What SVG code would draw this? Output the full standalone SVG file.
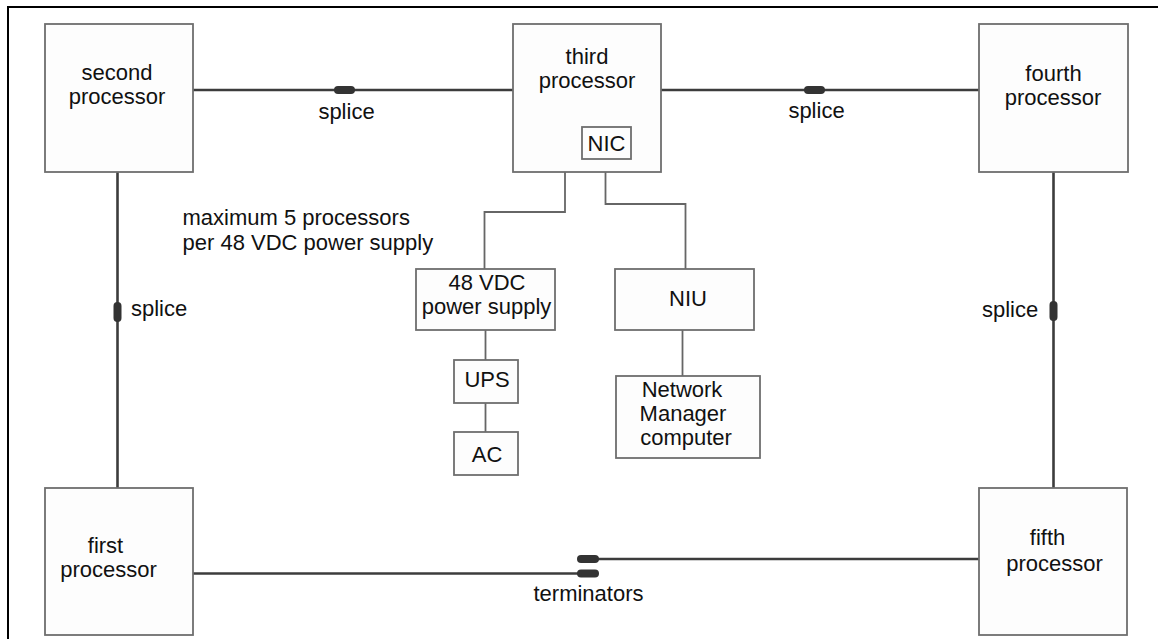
<svg xmlns="http://www.w3.org/2000/svg" width="1158" height="639" viewBox="0 0 1158 639">
<style>
  text { font-family: "Liberation Sans", Arial, sans-serif; font-size: 22px; fill: #111; }
  .m { text-anchor: middle; }
  .box { fill: #fdfdfd; stroke: #6e6e6e; stroke-width: 1.8; }
  .bus { fill: none; stroke: #3c3c3c; stroke-width: 2.6; }
  .wire { fill: none; stroke: #666; stroke-width: 1.8; }
  .splice { fill: #333; stroke: none; }
  .frame { stroke: #000; stroke-width: 2; }
</style>
<rect width="1158" height="639" fill="#fff"/>
<line class="frame" x1="8" y1="7" x2="1158" y2="7"/>
<line class="frame" x1="8" y1="6" x2="8" y2="639"/>

<g id="connectors">
  <line class="bus" x1="193" y1="90" x2="513" y2="90"/>
  <line class="bus" x1="661" y1="90" x2="979" y2="90"/>
  <line class="bus" x1="117.5" y1="172" x2="117.5" y2="488"/>
  <line class="bus" x1="1053.5" y1="172" x2="1053.5" y2="488"/>
  <line class="bus" x1="193" y1="573.5" x2="580" y2="573.5"/>
  <line class="bus" x1="596" y1="559" x2="979" y2="559"/>
  <polyline class="wire" points="565,172 565,212 484.5,212 484.5,269"/>
  <polyline class="wire" points="605.5,159 605.5,204 685.5,204 685.5,269"/>
  <line class="wire" x1="485.5" y1="330" x2="485.5" y2="360"/>
  <line class="wire" x1="485.5" y1="403" x2="485.5" y2="432"/>
  <line class="wire" x1="682.5" y1="330" x2="682.5" y2="376"/>
  <rect class="splice" x="334" y="86" width="21" height="8" rx="4"/>
  <rect class="splice" x="804" y="86" width="21" height="8" rx="4"/>
  <rect class="splice" x="113.5" y="302" width="8" height="20" rx="4"/>
  <rect class="splice" x="1049.5" y="301" width="8" height="20" rx="4"/>
  <rect class="splice" x="577" y="555" width="22" height="8" rx="4"/>
  <rect class="splice" x="577" y="569.5" width="22" height="8" rx="4"/>
  <text class="m" x="346.5" y="119">splice</text>
  <text class="m" x="816.5" y="118">splice</text>
  <text x="131" y="316">splice</text>
  <text x="982" y="316.5">splice</text>
  <text class="m" x="588.5" y="600.5">terminators</text>
</g>

<g id="note">
  <text x="182.5" y="225">maximum 5 processors</text>
  <text x="182.5" y="250">per 48 VDC power supply</text>
</g>

<g id="second-processor">
  <rect class="box" x="45" y="24" width="148" height="148"/>
  <text class="m" x="117" y="80">second</text>
  <text class="m" x="117" y="104">processor</text>
</g>

<g id="third-processor">
  <rect class="box" x="513" y="24" width="148" height="148"/>
  <text class="m" x="587" y="64">third</text>
  <text class="m" x="587" y="88">processor</text>
</g>

<g id="nic">
  <rect class="box" x="582" y="127" width="49" height="32"/>
  <text class="m" x="606.5" y="150.5">NIC</text>
</g>

<g id="fourth-processor">
  <rect class="box" x="979" y="24" width="149" height="148"/>
  <text class="m" x="1053.5" y="81">fourth</text>
  <text class="m" x="1053" y="105">processor</text>
</g>

<g id="power-supply">
  <rect class="box" x="416" y="269" width="139" height="61"/>
  <text class="m" x="487" y="290">48 VDC</text>
  <text class="m" x="486.5" y="314">power supply</text>
</g>

<g id="niu">
  <rect class="box" x="615" y="269" width="139" height="61"/>
  <text class="m" x="688" y="306">NIU</text>
</g>

<g id="ups">
  <rect class="box" x="454" y="360" width="64" height="43"/>
  <text class="m" x="487" y="387">UPS</text>
</g>

<g id="ac">
  <rect class="box" x="454" y="432" width="64" height="43"/>
  <text class="m" x="487" y="461.5">AC</text>
</g>

<g id="network-manager">
  <rect class="box" x="616" y="376" width="144" height="82"/>
  <text class="m" x="682" y="397">Network</text>
  <text class="m" x="683" y="421">Manager</text>
  <text class="m" x="686" y="445">computer</text>
</g>

<g id="first-processor">
  <rect class="box" x="45" y="488" width="148" height="147"/>
  <text class="m" x="105.5" y="553">first</text>
  <text class="m" x="108.5" y="577">processor</text>
</g>

<g id="fifth-processor">
  <rect class="box" x="979" y="488" width="148" height="147"/>
  <text class="m" x="1047.5" y="545">fifth</text>
  <text class="m" x="1054.5" y="570.5">processor</text>
</g>
</svg>
